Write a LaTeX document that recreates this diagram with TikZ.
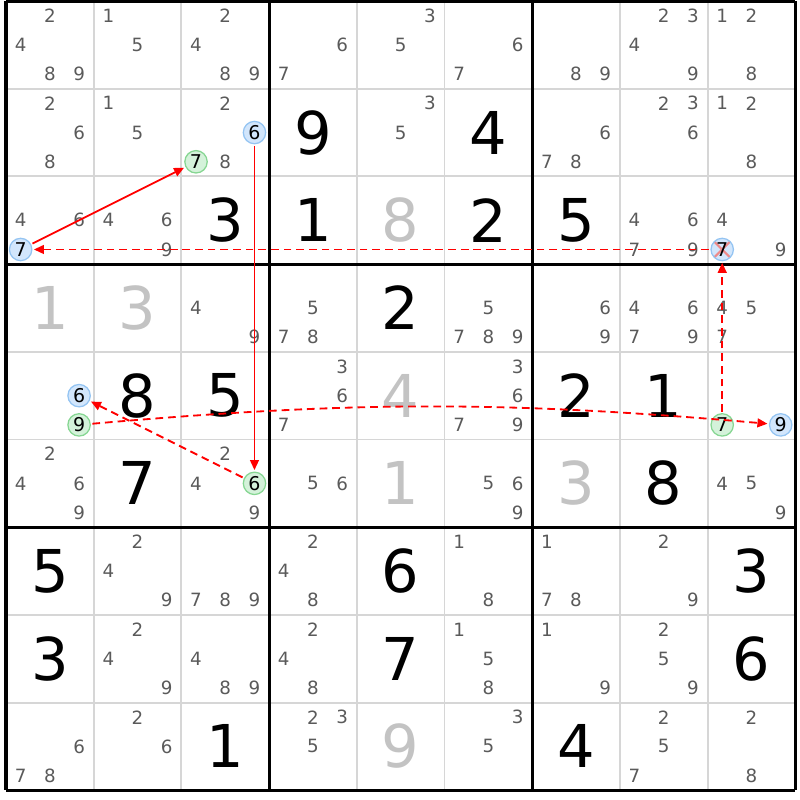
\documentclass[tikz,border=0pt]{standalone}
\usepackage{fontspec}
\setmainfont{DejaVu Sans}
\usetikzlibrary{arrows.meta}
\definecolor{candgray}{HTML}{5A5A5A}
\definecolor{solvedgray}{HTML}{C3C3C3}
\definecolor{gridgray}{HTML}{D6D6D6}
\definecolor{onfill}{HTML}{D2E6FC}
\definecolor{ondraw}{HTML}{94C4F2}
\definecolor{offfill}{HTML}{D4F2DA}
\definecolor{offdraw}{HTML}{86D692}
\definecolor{crossred}{HTML}{EE8A8A}
\tikzset{
  cand/.style={text=candgray, font=\fontsize{13}{13}\selectfont, inner sep=0pt},
  given/.style={font=\fontsize{42}{42}\selectfont, inner sep=0pt},
  solved/.style={given, text=solvedgray},
  onmark/.style={circle, draw=ondraw, fill=onfill, line width=0.9pt, minimum size=0.56cm,
    inner sep=0pt, outer sep=1.5pt, font=\fontsize{13.5}{13.5}\selectfont},
  offmark/.style={onmark, draw=offdraw, fill=offfill},
  crossed/.style={path picture={\draw[crossred, line width=1.5pt]
    (path picture bounding box.north west) -- (path picture bounding box.south east)
    (path picture bounding box.north east) -- (path picture bounding box.south west);}},
  strong/.style={draw=red, line width=1.3pt, -{Triangle[length=0.25cm, width=0.22cm, fill=red]}},
  weak/.style={strong, dash pattern=on 5.5pt off 3.5pt}
}
\begin{document}
\begin{tikzpicture}[x=2.1925cm, y=-2.1925cm]
\useasboundingbox (-0.0684,-0.0114) rectangle (9.0536,9.1106);
% grid
\foreach \i in {1,2,4,5,7,8} {
  \draw[gridgray, line width=1.4pt] (\i,0) -- (\i,9);
  \draw[gridgray, line width=1.4pt] (0,\i) -- (9,\i);
}
\foreach \i in {0,3,6,9} {
  \draw[line width=2.2pt] (\i,0) -- (\i,9);
  \draw[line width=2.2pt] (0,\i) -- (9,\i);
}
% givens and solved cells
\foreach \r/\c/\v in {2/4/9, 2/6/4, 3/3/3, 3/4/1, 3/6/2, 3/7/5, 4/5/2, 5/2/8, 5/3/5,
    5/7/2, 5/8/1, 6/2/7, 6/8/8, 7/1/5, 7/5/6, 7/9/3, 8/1/3, 8/5/7, 8/9/6, 9/3/1, 9/7/4}
  \node[given] (g\r\c) at (\c-0.5,\r-0.5) {\v};
\foreach \r/\c/\v in {3/5/8, 4/1/1, 4/2/3, 5/5/4, 6/5/1, 6/7/3, 9/5/9}
  \node[solved] (g\r\c) at (\c-0.5,\r-0.5) {\v};
% candidates
\foreach \r/\c/\l in {1/1/{2,4,8,9}, 1/2/{1,5}, 1/3/{2,4,8,9}, 1/4/{6,7}, 1/5/{3,5},
    1/6/{6,7}, 1/7/{8,9}, 1/8/{2,3,4,9}, 1/9/{1,2,8},
    2/1/{2,6,8}, 2/2/{1,5}, 2/3/{2,8}, 2/5/{3,5}, 2/7/{6,7,8}, 2/8/{2,3,6}, 2/9/{1,2,8},
    3/1/{4,6}, 3/2/{4,6,9}, 3/8/{4,6,7,9}, 3/9/{4,9},
    4/3/{4,9}, 4/4/{5,7,8}, 4/6/{5,7,8,9}, 4/7/{6,9}, 4/8/{4,6,7,9}, 4/9/{4,5,7},
    5/4/{3,6,7}, 5/6/{3,6,7,9},
    6/1/{2,4,6,9}, 6/3/{2,4,9}, 6/4/{5,6}, 6/6/{5,6,9}, 6/9/{4,5,9},
    7/2/{2,4,9}, 7/3/{7,8,9}, 7/4/{2,4,8}, 7/6/{1,8}, 7/7/{1,7,8}, 7/8/{2,9},
    8/2/{2,4,9}, 8/3/{4,8,9}, 8/4/{2,4,8}, 8/6/{1,5,8}, 8/7/{1,9}, 8/8/{2,5,9},
    9/1/{6,7,8}, 9/2/{2,6}, 9/4/{2,3,5}, 9/6/{3,5}, 9/8/{2,5,7}, 9/9/{2,8}}
  \foreach \d in \l {
    \pgfmathtruncatemacro\cx{mod(\d-1,3)}
    \pgfmathtruncatemacro\cy{div(\d-1,3)}
    \node[cand] (k\r\c\d) at ({\c-1+(2*\cx+1)/6},{\r-1+(2*\cy+1)/6}) {\d};
  }
% chain
\node[onmark] (r2c3d6) at ({2+5/6},1.5) {6};
\node[offmark] (r2c3d7) at ({2+1/6},{1+5/6}) {7};
\node[onmark] (r3c1d7) at ({1/6},{2+5/6}) {7};
\node[onmark, crossed] (r3c9d7) at ({8+1/6},{2+5/6}) {7};
\node[onmark] (r5c1d6) at ({5/6},4.5) {6};
\node[offmark] (r5c1d9) at ({5/6},{4+5/6}) {9};
\node[offmark] (r5c9d7) at ({8+1/6},{4+5/6}) {7};
\node[onmark] (r5c9d9) at ({8+5/6},{4+5/6}) {9};
\node[offmark] (r6c3d6) at ({2+5/6},5.5) {6};
\draw[strong] (r3c1d7) -- (r2c3d7);
\draw[strong] (r2c3d6) -- (r6c3d6);
\draw[weak] (r3c9d7.west) -- (r3c1d7.east);
\draw[weak] (r6c3d6) -- (r5c1d6);
\draw[weak] (r5c1d9) to[bend left=5] (r5c9d9);
\draw[weak] (r5c9d7) -- (r3c9d7);
\end{tikzpicture}
\end{document}
